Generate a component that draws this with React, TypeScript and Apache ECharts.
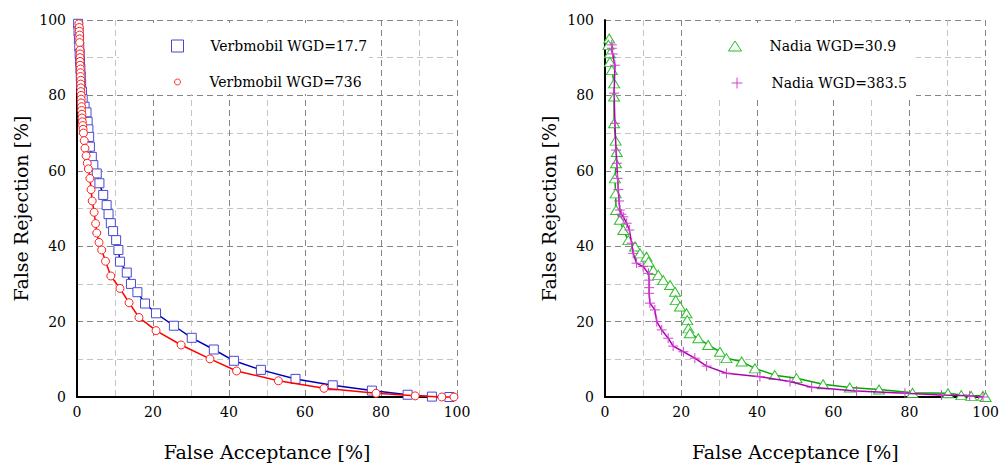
import React, { useEffect, useRef } from "react";
import * as echarts from "echarts";

// ---- data (False Acceptance %, False Rejection %) ----
const verbmobil17: number[][] = [
  [0.3, 99], [0.4, 97], [0.5, 95], [0.6, 93], [0.7, 91], [0.8, 89], [0.9, 87], [1.0, 85], [1.1, 83],
  [1.3, 81], [1.5, 79], [2.0, 77], [2.5, 75.5], [2.8, 73], [3.0, 71], [3.2, 69], [3.4, 66.4], [3.9, 63.7],
  [4.3, 61.5], [5.2, 59.3], [5.9, 56.7], [6.9, 53.6], [7.8, 50.9], [8.3, 48.5], [8.9, 46.1], [9.5, 44],
  [10.3, 41.6], [10.9, 39], [11.3, 35.9], [13.1, 33], [14.2, 30], [15.9, 27.8], [17.9, 24.8], [20.8, 22.2],
  [25.5, 18.9], [30.2, 15.7], [36, 12.6], [41.3, 9.6], [48.4, 7.2], [57.5, 4.8], [67.3, 3.1], [77.6, 1.7],
  [87, 0.6], [93.4, 0.1], [98, 0],
];
const verbmobil736: number[][] = [
  [0.5, 99], [0.6, 98], [0.6, 97], [0.7, 96], [0.7, 95], [0.7, 94], [0.8, 92], [0.8, 91], [0.8, 90],
  [0.8, 89], [0.8, 88], [0.9, 87], [0.9, 86], [0.9, 85], [1.0, 84], [1.0, 83], [1.0, 82], [1.0, 81],
  [1.1, 80], [1.1, 79], [1.1, 78], [1.2, 77], [1.2, 76], [1.3, 75], [1.3, 74], [1.4, 73], [1.5, 72],
  [1.6, 71], [1.7, 70], [1.9, 68], [2.1, 66], [2.4, 64], [2.7, 62], [3.0, 60.5], [3.4, 58], [3.7, 55],
  [4.0, 52], [4.5, 49], [4.9, 46], [5.2, 43.5], [5.8, 41], [6.5, 39], [7.5, 36], [8.9, 32.1], [11.3, 28.8],
  [13.7, 25], [16.3, 21.1], [20.8, 17.6], [27.4, 13.8], [35, 10.1], [42, 6.9], [53, 4.3], [65, 2.3],
  [78.7, 1], [89, 0.3], [96, 0], [99.2, 0],
];
const nadia31: number[][] = [
  [1.1, 95.1], [0.9, 93.4], [1.3, 91.2], [1.3, 88.9], [1.8, 86.7], [2.4, 83.2], [2.4, 79.7], [2.4, 72.6],
  [2.8, 68], [3.1, 65], [2.9, 62], [2.6, 58], [2.8, 54], [2.9, 49.6], [3.9, 47], [4.8, 44.3], [6.1, 41.6],
  [7.9, 39.9], [9.2, 38.1], [10.9, 37.2], [11.4, 35.9], [12.7, 33.7], [14, 32.4], [15.3, 31], [17.1, 29.7],
  [18.4, 27.9], [18.6, 25.7], [19.7, 24], [21.4, 22.2], [21.6, 20.4], [21.9, 18.2], [22.3, 16.9],
  [24.5, 15.6], [27.1, 13.8], [30.2, 12], [31.9, 10.3], [35.9, 9.4], [39.4, 7.6], [44.6, 5.8], [50.3, 5],
  [57.3, 3.4], [64.3, 2.5], [72, 2], [80.8, 1.1], [90.1, 1], [93.6, 0.5], [96.2, 0.3], [99.3, 0.3], [100, 0],
];
const nadia383: number[][] = [
  [1.8, 93.4], [1.8, 92.5], [2.0, 91], [2.6, 88], [2.4, 80.6], [2.6, 72.6], [2.9, 65.5], [3.1, 62],
  [3.3, 58], [3.5, 55], [3.7, 52], [3.9, 49.6], [4.3, 48.5], [4.8, 47.8], [5.7, 46.1], [6.4, 44.3],
  [7.0, 40.8], [7.4, 38.1], [8.3, 35.5], [10, 34.6], [11.4, 32.8], [11.6, 31], [11.6, 29], [11.6, 27.5],
  [11.8, 24.9], [13.1, 23.1], [13.6, 20], [14.9, 17.8], [16.6, 15.6], [17.9, 13.5], [20.6, 12], [23.6, 10.3],
  [26.7, 8.2], [31.9, 6.3], [40.7, 5.4], [48.6, 4.1], [54.3, 2.6], [66.1, 1.6], [78.8, 1.0], [88.4, 0.5],
  [95.8, 0.3], [99.3, 0],
];
const seriesNames = ["Verbmobil WGD=17.7", "Verbmobil WGD=736", "Nadia WGD=30.9", "Nadia WGD=383.5"];
const xAxisName = "False Acceptance [%]";
const yAxisName = "False Rejection [%]";

const FONT = "DejaVu Serif";
const PLUS = "path://M0,5L10,5M5,0L5,10";

function axisCommon(name: string, isX: boolean, gridIndex: number) {
  return {
    type: "value",
    gridIndex,
    min: 0,
    max: 100,
    interval: 20,
    name,
    nameLocation: "middle",
    nameGap: isX ? 45 : 47,
    nameTextStyle: { fontFamily: FONT, fontSize: 19, color: "#000" },
    axisLine: { show: true, onZero: false, lineStyle: { color: "#000", width: 2 } },
    axisTick: { show: false },
    axisLabel: { fontFamily: FONT, fontSize: 14, color: "#000", margin: isX ? 8 : 11 },
    splitLine: { show: true, lineStyle: { color: "#858585", width: 1, type: [6, 4] } },
    minorTick: { show: false, splitNumber: 2 },
    minorSplitLine: { show: true, lineStyle: { color: "#c4c4c4", width: 1, type: [6, 4] } },
  };
}

export default function App() {
  const ref = useRef<HTMLDivElement>(null);
  useEffect(() => {
    if (!ref.current) return;
    const chart = echarts.init(ref.current, undefined, { renderer: "svg" });
    const legendBase = {
      orient: "horizontal",
      selectedMode: false,
      textStyle: { fontFamily: FONT, fontSize: 14, color: "#000" },
    };
    chart.setOption({
      animation: false,
      backgroundColor: "#fff",
      grid: [
        { left: 77, top: 20, width: 380, height: 377 },
        { left: 605, top: 20, width: 381, height: 377 },
      ],
      xAxis: [axisCommon(xAxisName, true, 0), axisCommon(xAxisName, true, 1)],
      yAxis: [axisCommon(yAxisName, false, 0), axisCommon(yAxisName, false, 1)],
      graphic: [
        { type: "rect", z: 1, shape: { x: 119, y: 23, width: 250, height: 71 }, style: { fill: "#fff" } },
        { type: "rect", z: 1, shape: { x: 686, y: 23, width: 230, height: 73 }, style: { fill: "#fff" } },
      ],
      legend: [
        {
          ...legendBase, left: 166, top: 34, itemWidth: 12, itemHeight: 12,
          textStyle: { ...legendBase.textStyle, padding: [0, 0, 0, 22] },
          data: [{ name: seriesNames[0], icon: "rect" }],
          itemStyle: { color: "#fff", borderColor: "#4646d2", borderWidth: 1 },
        },
        {
          ...legendBase, left: 169, top: 70, itemWidth: 6, itemHeight: 6,
          textStyle: { ...legendBase.textStyle, padding: [0, 0, 0, 24] },
          data: [{ name: seriesNames[1], icon: "circle" }],
          itemStyle: { color: "#fff", borderColor: "#ff3030", borderWidth: 1 },
        },
        {
          ...legendBase, left: 723, top: 34, itemWidth: 13, itemHeight: 10,
          textStyle: { ...legendBase.textStyle, padding: [0, 0, 0, 23] },
          data: [{ name: seriesNames[2], icon: "triangle" }],
          itemStyle: { color: "#fff", borderColor: "#22c022", borderWidth: 1 },
        },
        {
          ...legendBase, left: 724, top: 70, itemWidth: 11, itemHeight: 11,
          textStyle: { ...legendBase.textStyle, padding: [0, 0, 0, 24] },
          data: [{ name: seriesNames[3], icon: PLUS }],
          itemStyle: { color: "none", borderColor: "#d040d0", borderWidth: 1 },
        },
      ],
      series: [
        {
          name: seriesNames[0], type: "line", xAxisIndex: 0, yAxisIndex: 0, data: verbmobil17,
          clip: false, symbol: "rect", symbolSize: 9, z: 2,
          lineStyle: { color: "#0000b4", width: 1.5 },
          itemStyle: { color: "#fff", borderColor: "#4a4ad4", borderWidth: 1 },
        },
        {
          name: seriesNames[1], type: "line", xAxisIndex: 0, yAxisIndex: 0, data: verbmobil736,
          clip: false, symbol: "circle", symbolSize: 8, z: 3,
          lineStyle: { color: "#ff0000", width: 1.5 },
          itemStyle: { color: "#fff", borderColor: "#ff2020", borderWidth: 1 },
        },
        {
          name: seriesNames[2], type: "line", xAxisIndex: 1, yAxisIndex: 1, data: nadia31,
          clip: false, symbol: "triangle", symbolSize: [11, 9], z: 2,
          lineStyle: { color: "#00a800", width: 1.5 },
          itemStyle: { color: "#fff", borderColor: "#30c030", borderWidth: 1 },
        },
        {
          name: seriesNames[3], type: "line", xAxisIndex: 1, yAxisIndex: 1, data: nadia383,
          clip: false, symbol: PLUS, symbolSize: 10, z: 3,
          lineStyle: { color: "#b000b0", width: 1.5 },
          itemStyle: { color: "none", borderColor: "#d040d0", borderWidth: 1 },
        },
      ],
    });
    return () => chart.dispose();
  }, []);
  return (
    <div
      ref={ref}
      style={{ position: "fixed", left: 0, top: 0, width: 1002, height: 466, background: "#fff" }}
    />
  );
}
